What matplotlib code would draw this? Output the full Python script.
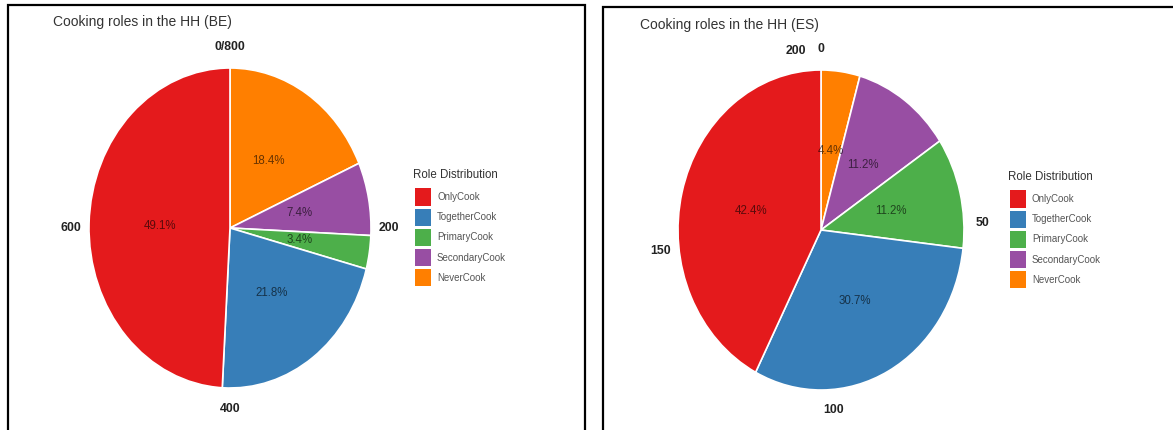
import math
import matplotlib.pyplot as plt
from matplotlib.patches import Rectangle

roles = ["OnlyCook", "TogetherCook", "PrimaryCook", "SecondaryCook", "NeverCook"]
role_colors = ["#E41A1C", "#377EB8", "#4DAF4A", "#984EA3", "#FF7F00"]

# respondents per role
be_counts = [393, 174, 27, 59, 147]
es_counts = [87, 63, 23, 23, 9]

be_breaks = [0, 200, 400, 600, 800]
es_breaks = [0, 50, 100, 150, 200]

W, H = 1173, 430
plt.rcParams["font.family"] = ["Liberation Sans", "DejaVu Sans"]


def fx(x):
    return x / W


def fy(y):
    # pixel rows are counted from the top
    return 1 - y / H


def pie_panel(fig, cx, cy, rx, ry, counts, breaks, title, box_x, box_top, title_xy):
    ax = fig.add_axes([fx(cx - rx), fy(cy + ry), 2 * rx / W, 2 * ry / H])
    # slices run clockwise from 12 o'clock, last category first
    vals = counts[::-1]
    cols = role_colors[::-1]
    ax.pie(vals, colors=cols, startangle=90, counterclock=False, radius=1.0,
           wedgeprops=dict(edgecolor="white", linewidth=1.2))
    ax.set_aspect("auto")
    ax.set_xlim(-1, 1)
    ax.set_ylim(-1, 1)

    total = sum(counts)
    cum = 0
    for v in vals:
        mid = (cum + v / 2) / total * 2 * math.pi
        cum += v
        ax.text(0.5 * math.sin(mid), 0.5 * math.cos(mid), f"{v / total * 100:.1f}%",
                ha="center", va="center", fontsize=8.3, color="black", alpha=0.6)

    # theta axis labels around the rim; a break equal to the total sits on 0
    placed = {}
    for b in breaks:
        a = 0.0 if b >= total else b / total * 360
        placed.setdefault(round(a, 3), []).append(str(b))
    for a, labs in placed.items():
        r = math.radians(a)
        ax.text(1.13 * math.sin(r), 1.13 * math.cos(r), "/".join(labs),
                ha="center", va="center", fontsize=8.8, fontweight="bold", color="#222222")

    fig.text(fx(title_xy[0]), fy(title_xy[1]), title, fontsize=10, color="#333333",
             ha="left", va="center")

    # legend drawn by hand
    lx = box_x + 405
    fig.text(fx(lx), fy(cy - 53), "Role Distribution", fontsize=8.3, color="#333333",
             ha="left", va="center")
    for i, (name, col) in enumerate(zip(roles, role_colors)):
        yc = cy - 31 + 20.2 * i
        fig.add_artist(Rectangle((fx(lx + 2), fy(yc + 8.5)), 16 / W, 17 / H,
                                 transform=fig.transFigure, facecolor=col,
                                 edgecolor="none"))
        fig.text(fx(lx + 24), fy(yc), name, fontsize=7.0, color="#555555",
                 ha="left", va="center")

    fig.add_artist(Rectangle((fx(box_x), -0.1), 577 / W, 1.1 - box_top / H,
                             transform=fig.transFigure, fill=False,
                             edgecolor="black", linewidth=1.6))
    return ax


fig = plt.figure(figsize=(W / 100, H / 100), dpi=100)
pie_panel(fig, 230, 228, 141, 160, be_counts, be_breaks,
          "Cooking roles in the HH (BE)", 8, 5, (53, 22))
pie_panel(fig, 821, 230, 143, 160, es_counts, es_breaks,
          "Cooking roles in the HH (ES)", 603, 7, (640, 25))

fig.savefig("out.png", dpi=100)
